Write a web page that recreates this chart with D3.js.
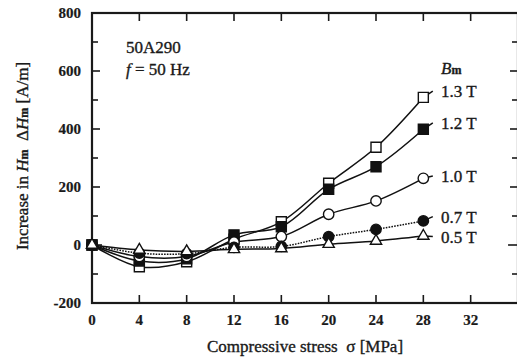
<!DOCTYPE html>
<html>
<head>
<meta charset="utf-8">
<style>
body { margin: 0; background: #fff; }
text { font-family: "Liberation Serif", "DejaVu Serif", serif; fill: #1a1a1a; stroke: #1a1a1a; stroke-width: 0.35; }
</style>
</head>
<body>
<svg width="517" height="358"></svg>
<script src="https://cdn.jsdelivr.net/npm/d3@7/dist/d3.min.js"></script>
<script>

// compressive stress (MPa) at which Hm was measured
var stress = [0, 4, 8, 12, 16, 20, 24, 28];

// increase in Hm (A/m) for each peak flux density Bm
var t13 = [0, -75, -58, 20, 80, 213, 337, 509];
var t12 = [0, -55, -48, 35, 63, 192, 270, 399];
var t10 = [0, -40, -40, 10, 29, 106, 152, 230];
var t07 = [0, -28, -30, -8, -5, 29, 54, 83];
var t05 = [0, -17, -22, -15, -12, 3, 14, 31];

var seriesNames = ["1.3 T", "1.2 T", "1.0 T", "0.7 T", "0.5 T"];
// where each right-hand label sits, in A/m
var labelAt = [531, 421, 238, 98, 29];

var xTicks = [0, 4, 8, 12, 16, 20, 24, 28, 32];
var yTicks = [-200, 0, 200, 400, 600, 800];

var svg = d3.select("svg"),
    margin = {top: 13, right: -1, bottom: 55, left: 92},
    width = +svg.attr("width") - margin.left - margin.right,
    height = +svg.attr("height") - margin.top - margin.bottom,
    g = svg.append("g").attr("transform", "translate(" + margin.left + "," + margin.top + ")");

var x = d3.scaleLinear().domain([0, 36]).range([0, width]);
var y = d3.scaleLinear().domain([-200, 800]).range([height, 0]);

var series = [
  {name: seriesNames[0], values: t13, symbol: d3.symbolSquare, size: 100, fill: "#fff", dash: null},
  {name: seriesNames[1], values: t12, symbol: d3.symbolSquare, size: 100, fill: "#111", dash: null},
  {name: seriesNames[2], values: t10, symbol: d3.symbolCircle, size: 85, fill: "#fff", dash: null},
  {name: seriesNames[3], values: t07, symbol: d3.symbolCircle, size: 85, fill: "#111", dash: "1.6,1.2"},
  {name: seriesNames[4], values: t05, symbol: d3.symbolTriangle, size: 55, fill: "#fff", dash: null}
];

var line = d3.line()
    .x(function(d) { return x(d[0]); })
    .y(function(d) { return y(d[1]); })
    .curve(d3.curveCatmullRom.alpha(0.5));

// ticks, inward on all four sides
var tickG = g.append("g").attr("stroke", "#1a1a1a").attr("stroke-width", 1.6);
xTicks.forEach(function(t) {
  if (t === 0) return;
  tickG.append("line").attr("x1", x(t)).attr("x2", x(t)).attr("y1", height).attr("y2", height - 8);
  tickG.append("line").attr("x1", x(t)).attr("x2", x(t)).attr("y1", 0).attr("y2", 8);
});
d3.range(-100, 800, 100).forEach(function(t) {
  var len = t === 0 ? 10 : (t % 200 === 0 ? 8 : 6);
  tickG.append("line").attr("x1", 0).attr("x2", len).attr("y1", y(t)).attr("y2", y(t));
  tickG.append("line").attr("x1", width).attr("x2", width - len).attr("y1", y(t)).attr("y2", y(t));
});

// frame
g.append("rect")
    .attr("width", width)
    .attr("height", height)
    .attr("fill", "none")
    .attr("stroke", "#1a1a1a")
    .attr("stroke-width", 2.2);

// tick labels
g.append("g").selectAll("text").data(xTicks).enter().append("text")
    .attr("x", function(d) { return x(d); })
    .attr("y", height + 22)
    .attr("text-anchor", "middle")
    .attr("font-size", 15)
    .attr("font-weight", "bold")
    .style("stroke-width", 0.2)
    .text(function(d) { return d; });

g.append("g").selectAll("text").data(yTicks).enter().append("text")
    .attr("x", -11)
    .attr("y", function(d) { return y(d) + 5; })
    .attr("text-anchor", "end")
    .attr("font-size", 15)
    .attr("font-weight", "bold")
    .style("stroke-width", 0.2)
    .text(function(d) { return d; });

// curves
series.forEach(function(s) {
  var pts = stress.map(function(v, i) { return [v, s.values[i]]; });
  g.append("path")
      .datum(pts)
      .attr("fill", "none")
      .attr("stroke", "#111")
      .attr("stroke-width", 1.5)
      .attr("stroke-dasharray", s.dash)
      .attr("d", line);
});

// leader lines and labels
series.forEach(function(s, i) {
  var last = s.values[s.values.length - 1];
  g.append("line")
      .attr("x1", x(28)).attr("y1", y(last))
      .attr("x2", x(28.8)).attr("y2", y(labelAt[i]))
      .attr("stroke", "#111")
      .attr("stroke-width", 1.5);
  g.append("text")
      .attr("x", x(29.5))
      .attr("y", y(labelAt[i]) + 6)
      .attr("font-size", 17)
      .text(s.name);
});

// markers
series.forEach(function(s) {
  g.append("g").selectAll("path").data(s.values).enter().append("path")
      .attr("transform", function(d, i) { return "translate(" + x(stress[i]) + "," + y(d) + ")"; })
      .attr("d", d3.symbol().type(s.symbol).size(s.size))
      .attr("fill", s.fill)
      .attr("stroke", "#111")
      .attr("stroke-width", 1.4);
});

// Bm heading
var bm = g.append("text").attr("x", x(29.5)).attr("y", 61).attr("font-size", 17);
bm.append("tspan").attr("font-style", "italic").text("B");
bm.append("tspan").attr("font-size", 12).attr("font-weight", "bold").text("m");

// annotation
g.append("text").attr("x", 34).attr("y", 40).attr("font-size", 17).text("50A290");
var fq = g.append("text").attr("x", 34).attr("y", 62).attr("font-size", 17);
fq.append("tspan").attr("font-style", "italic").text("f");
fq.append("tspan").text(" = 50 Hz");

// axis titles
svg.append("text")
    .attr("x", margin.left + x(18))
    .attr("y", 352)
    .attr("text-anchor", "middle")
    .attr("font-size", 17)
    .text("Compressive stress \u00a0\u03c3 [MPa]");

var yl = svg.append("text")
    .attr("transform", "translate(28,156) rotate(-90)")
    .attr("text-anchor", "middle")
    .attr("font-size", 17);
yl.append("tspan").text("Increase in ");
yl.append("tspan").attr("font-style", "italic").text("H");
yl.append("tspan").attr("font-size", 12).attr("font-weight", "bold").text("m");
yl.append("tspan").text("\u00a0\u00a0\u0394");
yl.append("tspan").attr("font-style", "italic").text("H");
yl.append("tspan").attr("font-size", 12).attr("font-weight", "bold").text("m");
yl.append("tspan").text(" [A/m]");

</script>
</body>
</html>
